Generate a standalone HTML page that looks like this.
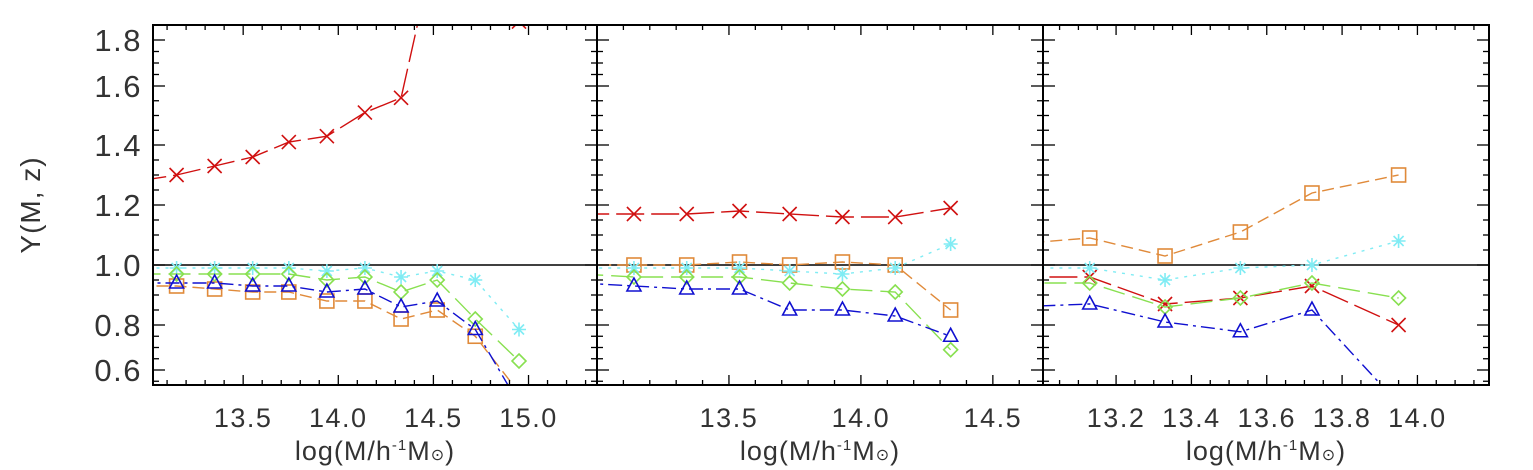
<!DOCTYPE html>
<html><head><meta charset="utf-8"><style>
html,body{margin:0;padding:0;background:#fff;}
svg{display:block;font-family:"Liberation Sans","DejaVu Sans",sans-serif;}
</style></head><body>
<svg id="c" width="1533" height="470" viewBox="0 0 1533 470"></svg>
<script>
// ---- data ----
const yTicks=[0.6,0.8,1.0,1.2,1.4,1.6,1.8];
const p1Ticks=[13.5,14.0,14.5,15.0];
const p2Ticks=[13.5,14.0,14.5];
const p3Ticks=[13.2,13.4,13.6,13.8,14.0];
const p1Mass=[12.95,13.15,13.35,13.55,13.74,13.94,14.14,14.33,14.52,14.72,14.95];
const p1Red=[1.28,1.30,1.33,1.36,1.41,1.43,1.51,1.56,2.25,2.15,1.88];
const p1Orange=[0.93,0.93,0.92,0.91,0.91,0.88,0.88,0.82,0.85,0.75,0.50];
const p1Cyan=[0.99,0.99,0.99,0.99,0.99,0.98,0.99,0.96,0.98,0.95,0.78];
const p1Green=[0.97,0.97,0.97,0.97,0.97,0.95,0.96,0.91,0.95,0.82,0.64];
const p1Blue=[0.94,0.94,0.94,0.93,0.93,0.91,0.92,0.86,0.88,0.78,0.45];
const p2Mass=[12.94,13.14,13.34,13.54,13.73,13.93,14.13,14.34];
const p2Red=[1.17,1.17,1.17,1.18,1.17,1.16,1.16,1.19];
const p2Orange=[1.00,1.00,1.00,1.01,1.00,1.01,1.00,0.85];
const p2Cyan=[0.99,0.99,0.99,0.99,0.98,0.97,0.99,1.07];
const p2Green=[0.97,0.96,0.96,0.96,0.94,0.92,0.91,0.69];
const p2Blue=[0.94,0.93,0.92,0.92,0.85,0.85,0.83,0.75];
const p3Mass=[12.93,13.13,13.33,13.53,13.72,13.95];
const p3Red=[0.96,0.96,0.87,0.89,0.93,0.80];
const p3Orange=[1.07,1.09,1.03,1.11,1.24,1.30];
const p3Cyan=[0.99,0.99,0.95,0.99,1.00,1.08];
const p3Green=[0.94,0.94,0.86,0.89,0.94,0.89];
const p3Blue=[0.86,0.87,0.81,0.77,0.85,0.45];

const NS="http://www.w3.org/2000/svg";
const svg=document.getElementById('c');
function mk(t,a,p){const e=document.createElementNS(NS,t);for(const k in a)e.setAttribute(k,a[k]);(p||svg).appendChild(e);return e;}
const TOP=25,BOT=385;
const yPix=[370,325,265,205,145,86,40];
function yS(v){
  if(v<=yTicks[1]) return yPix[0]+(v-yTicks[0])/(yTicks[1]-yTicks[0])*(yPix[1]-yPix[0]);
  for(let i=1;i<yTicks.length-1;i++){if(v<=yTicks[i+1])return yPix[i]+(v-yTicks[i])/(yTicks[i+1]-yTicks[i])*(yPix[i+1]-yPix[i]);}
  const n=yTicks.length-1;return yPix[n]+(v-yTicks[n])/(yTicks[n]-yTicks[n-1])*(yPix[n]-yPix[n-1]);
}
const styles={red:{c:"#d01010",d:"28 7",m:"x"},orange:{c:"#e08a3a",d:"12 6",m:"sq"},cyan:{c:"#80ecf4",d:"3 6",m:"ast"},green:{c:"#88e050",d:"22 8",m:"dia"},blue:{c:"#1010d0",d:"14 5 3 5",m:"tri"}};
function marker(g,k,x,y,c){
  const s=7;
  if(k==="x"){mk('path',{d:`M${x-s} ${y-s}L${x+s} ${y+s}M${x-s} ${y+s}L${x+s} ${y-s}`,stroke:c,'stroke-width':1.6,fill:'none'},g);}
  else if(k==="sq"){mk('rect',{x:x-7,y:y-7,width:14,height:14,stroke:c,'stroke-width':1.6,fill:'none'},g);}
  else if(k==="dia"){mk('path',{d:`M${x} ${y-7}L${x+7} ${y}L${x} ${y+7}L${x-7} ${y}Z`,stroke:c,'stroke-width':1.6,fill:'none'},g);}
  else if(k==="tri"){mk('path',{d:`M${x} ${y-8}L${x+7} ${y+5}L${x-7} ${y+5}Z`,stroke:c,'stroke-width':1.6,fill:'none'},g);}
  else {mk('path',{d:`M${x-7} ${y}L${x+7} ${y}M${x} ${y-7}L${x} ${y+7}M${x-5} ${y-5}L${x+5} ${y+5}M${x-5} ${y+5}L${x+5} ${y-5}`,stroke:c,'stroke-width':1.6,fill:'none'},g);}
}
function panel(id,x0,x1,xmin,xmax,ticks,minorStep,mass,series){
  const xS=v=>x0+(v-xmin)/(xmax-xmin)*(x1-x0);
  const g=mk('g',{});
  
  
  const cp=mk('clipPath',{id:id+'-clip'},g);mk('rect',{x:x0,y:TOP,width:x1-x0,height:BOT-TOP},cp);
  const dg=mk('g',{'clip-path':`url(#${id}-clip)`},g);
  mk('line',{x1:x0,x2:x1,y1:yS(1),y2:yS(1),stroke:'#000','stroke-width':1.5},dg);
  for(const [name,vals] of series){
    const st=styles[name];
    const sg=mk('g',{},dg);
    
    
    const pts=mass.map((m,i)=>xS(m).toFixed(1)+','+yS(vals[i]).toFixed(1)).join(' ');
    mk('polyline',{points:pts,fill:'none',stroke:st.c,'stroke-width':1.4,'stroke-dasharray':st.d},sg);
    for(let i=1;i<mass.length;i++) marker(sg,st.m,xS(mass[i]),yS(vals[i]),st.c);
  }
  for(let v=Math.ceil(xmin/minorStep)*minorStep;v<=xmax+1e-9;v+=minorStep){
    const x=xS(v);const maj=ticks.some(t=>Math.abs(t-v)<1e-6);const L=maj?10:5;
    mk('line',{x1:x,x2:x,y1:BOT,y2:BOT-L,stroke:'#000','stroke-width':1.3},g);
    mk('line',{x1:x,x2:x,y1:TOP,y2:TOP+L,stroke:'#000','stroke-width':1.3},g);
  }
  for(let v=0.55;v<=1.85;v+=0.05){
    const y=yS(v);if(y<TOP||y>BOT)continue;const maj=yTicks.some(t=>Math.abs(t-v)<1e-6);const L=maj?12:6;
    mk('line',{x1:x0,x2:x0+L,y1:y,y2:y,stroke:'#000','stroke-width':1.3},g);
    mk('line',{x1:x1,x2:x1-L,y1:y,y2:y,stroke:'#000','stroke-width':1.3},g);
  }
  mk('rect',{x:x0,y:TOP,width:x1-x0,height:BOT-TOP,fill:'none',stroke:'#000','stroke-width':2},g);
  for(const t of ticks){
    const e=mk('text',{x:xS(t),y:427,'text-anchor':'middle','font-size':27,'letter-spacing':1.5,fill:'#333'},g);
    e.textContent=t.toFixed(1);
    
    
  }
  const xt=mk('text',{x:(x0+x1)/2,y:460,'text-anchor':'middle','font-size':27,'letter-spacing':1,fill:'#333'},g);
  
  
  xt.innerHTML='log(M/h<tspan font-size="15" dy="-10">-1</tspan><tspan dy="10">M</tspan><tspan font-size="16">⊙</tspan>)';
}
panel('panel-1',153,597,13.026,15.36,p1Ticks,0.1,p1Mass,[['red',p1Red],['orange',p1Orange],['cyan',p1Cyan],['green',p1Green],['blue',p1Blue]]);
panel('panel-2',597,1043,13.0,14.69,p2Ticks,0.1,p2Mass,[['red',p2Red],['orange',p2Orange],['cyan',p2Cyan],['green',p2Green],['blue',p2Blue]]);
panel('panel-3',1043,1489,13.006,14.19,p3Ticks,0.05,p3Mass,[['red',p3Red],['orange',p3Orange],['cyan',p3Cyan],['green',p3Green],['blue',p3Blue]]);
for(const t of yTicks){
  const e=mk('text',{x:142,y:yS(t)+11,'text-anchor':'end','font-size':31,'letter-spacing':1.5,fill:'#333'});
  e.textContent=t.toFixed(1);
  
  
}
const yt=mk('text',{x:0,y:0,'text-anchor':'middle','font-size':28,'letter-spacing':1,fill:'#333',transform:'translate(40,205) rotate(-90)'});
yt.textContent='Υ(M, z)';


</script>
</body></html>
